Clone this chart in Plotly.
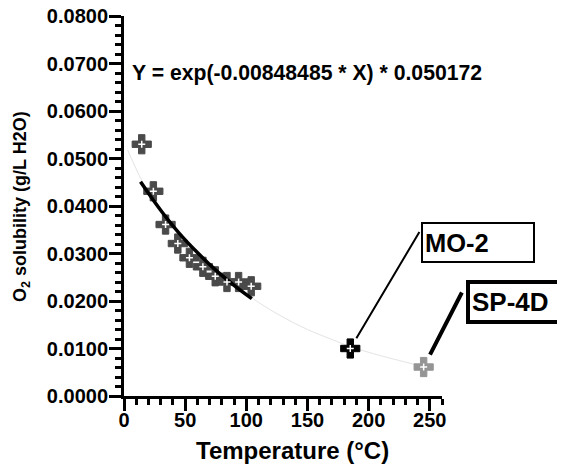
import plotly.graph_objects as go

# ---- data ----
temp_c = [14.5, 24, 34, 44, 53.5, 64.5, 74.6, 84.2, 93.7, 104]
o2_sol = [0.0530, 0.0431, 0.0361, 0.0321, 0.0291, 0.0272, 0.0252, 0.0240, 0.0240, 0.0231]

mo2_x, mo2_y = [185], [0.0100]
sp4d_x, sp4d_y = [245], [0.0061]

# faint global fit curve
fit_all_x = [3, 15, 30, 50, 70, 90, 110, 130, 150, 170, 185, 200, 220, 245]
fit_all_y = [0.0518, 0.0452, 0.0392, 0.0328, 0.0277, 0.0234, 0.0197, 0.0166,
             0.0140, 0.0119, 0.0104, 0.0092, 0.0078, 0.0062]

# thick black fit over the lab data
fit_lab_x = [13.5, 30, 45, 60, 75, 90, 104.5]
fit_lab_y = [0.0451, 0.0391, 0.0343, 0.0302, 0.0265, 0.0233, 0.0205]

x_ticks = [0, 50, 100, 150, 200, 250]
y_ticks = [0.0, 0.01, 0.02, 0.03, 0.04, 0.05, 0.06, 0.07, 0.08]
y_tick_text = [f"{v:.4f}" for v in y_ticks]

equation_text = "Y = exp(-0.00848485 * X) * 0.050172"

FONT = "Liberation Sans, Arial, sans-serif"

# page body has an 8px margin; figure size/margins compensate for it
W, H = 557, 456
L, T = 116, 8
PLOT_W = 434 - L
PLOT_H = 388 - T

fig = go.Figure()

fig.add_trace(go.Scatter(x=fit_all_x, y=fit_all_y, mode="lines",
                         line=dict(color="#e4e4e4", width=1, shape="spline"),
                         hoverinfo="skip", showlegend=False))

fig.add_trace(go.Scatter(x=temp_c, y=o2_sol, mode="markers",
                         marker=dict(symbol="cross", size=16, color="#4a4a4a",
                                     line=dict(color="#4a4a4a", width=1)),
                         showlegend=False))

fig.add_trace(go.Scatter(x=fit_lab_x, y=fit_lab_y, mode="lines",
                         line=dict(color="black", width=3.5, shape="spline"),
                         hoverinfo="skip", showlegend=False))

fig.add_trace(go.Scatter(x=mo2_x, y=mo2_y, mode="markers",
                         marker=dict(symbol="cross", size=16, color="black",
                                     line=dict(color="black", width=1)),
                         showlegend=False))
fig.add_trace(go.Scatter(x=sp4d_x, y=sp4d_y, mode="markers",
                         marker=dict(symbol="cross", size=16, color="#959595",
                                     line=dict(color="#959595", width=1)),
                         showlegend=False))

# white centres
fig.add_trace(go.Scatter(x=temp_c + mo2_x + sp4d_x, y=o2_sol + mo2_y + sp4d_y,
                         mode="markers",
                         marker=dict(symbol="cross-thin", size=5, color="white",
                                     line=dict(color="white", width=1.5)),
                         hoverinfo="skip", showlegend=False))

axis_common = dict(
    showline=True, linecolor="black", linewidth=3,
    ticks="outside", ticklen=12, tickwidth=3, tickcolor="black",
    showgrid=False, zeroline=False, ticklabeloverflow="allow",
    automargin=False,
    tickfont=dict(family=FONT, size=20, color="black", weight="bold"),
)

fig.update_xaxes(range=[0, 260], tickvals=x_ticks, ticklabelstandoff=-8,
                 minor=dict(dtick=10, tick0=0, ticks="outside", ticklen=6,
                            tickwidth=3, tickcolor="black", showgrid=False),
                 **axis_common)
fig.update_yaxes(range=[0, 0.08], tickvals=y_ticks, ticktext=y_tick_text,
                 ticklabelstandoff=-3,
                 minor=dict(dtick=0.002, tick0=0, ticks="outside", ticklen=6,
                            tickwidth=3, tickcolor="black", showgrid=False),
                 **axis_common)


def px_x(px):
    return (px - 8 - L) / PLOT_W


def px_y(py):
    return (T + PLOT_H - (py - 8)) / PLOT_H


annotations = [
    dict(text=equation_text, x=5.0, y=0.0680, xref="x", yref="y",
         xanchor="left", yanchor="middle", showarrow=False,
         font=dict(family=FONT, size=21.2, color="black", weight="bold")),
    dict(text="Temperature (°C)", x=px_x(292), y=px_y(450),
         xref="paper", yref="paper", xanchor="center", yanchor="middle",
         showarrow=False,
         font=dict(family=FONT, size=24, color="black", weight="bold")),
    dict(text="O<sub>2</sub> solubility (g/L H2O)", x=px_x(21),
         y=px_y(207), xref="paper", yref="paper",
         xanchor="center", yanchor="middle", textangle=-90, showarrow=False,
         font=dict(family=FONT, size=18, color="black", weight="bold")),
    # leader lines
    dict(x=mo2_x[0], y=mo2_y[0], xref="x", yref="y", text="", showarrow=True,
         arrowhead=0, arrowwidth=2, arrowcolor="black", ax=70, ay=-118,
         standoff=12),
    dict(x=sp4d_x[0], y=sp4d_y[0], xref="x", yref="y", text="", showarrow=True,
         arrowhead=0, arrowwidth=4, arrowcolor="black", ax=39, ay=-76,
         standoff=14),
    # label boxes
    dict(text="MO-2", x=px_x(421), y=px_y(242.2),
         xref="paper", yref="paper", xanchor="left", yanchor="middle",
         showarrow=False, align="left", width=106, height=33,
         bordercolor="black", borderwidth=2, borderpad=2, bgcolor="white",
         font=dict(family=FONT, size=25.5, color="black", weight="bold")),
    dict(text="SP-4D", x=px_x(466), y=px_y(302),
         xref="paper", yref="paper", xanchor="left", yanchor="middle",
         showarrow=False, align="left", width=120, height=32,
         bordercolor="black", borderwidth=4, borderpad=2, bgcolor="white",
         font=dict(family=FONT, size=26, color="black", weight="bold")),
]

fig.update_layout(
    width=W, height=H,
    margin=dict(l=L, r=W - L - PLOT_W, t=T, b=H - T - PLOT_H, pad=0),
    paper_bgcolor="white", plot_bgcolor="white",
    showlegend=False,
    annotations=annotations,
)

fig.write_html("out.html")
